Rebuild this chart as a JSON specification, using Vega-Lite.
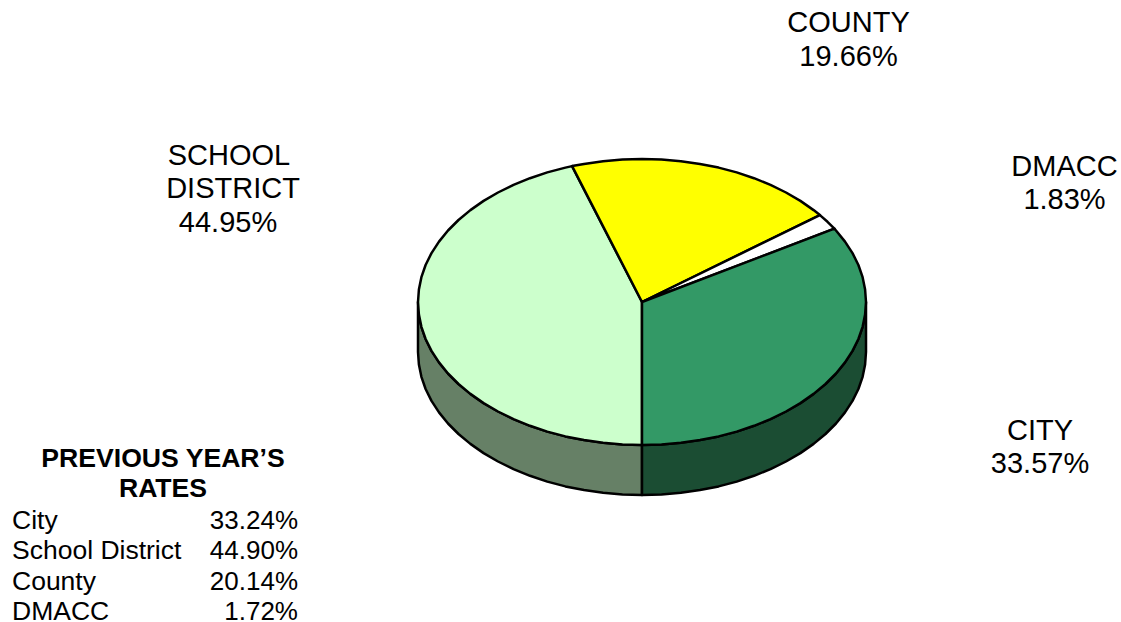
{
  "$schema": "https://vega.github.io/schema/vega-lite/v6.json",
  "width": 1121,
  "height": 622,
  "padding": 0,
  "autosize": {"type": "none"},
  "background": "white",
  "view": {"stroke": null},
  "config": {"font": "Liberation Sans"},
  "datasets": {
    "walls": [
      {"part":"Left wall","seq":1,"x":0,"y":-143},{"part":"Left wall","seq":2,"x":-19.5,"y":-142.5},{"part":"Left wall","seq":3,"x":-38.9,"y":-140.8},{"part":"Left wall","seq":4,"x":-58,"y":-138.1},{"part":"Left wall","seq":5,"x":-76.6,"y":-134.4},{"part":"Left wall","seq":6,"x":-94.7,"y":-129.6},{"part":"Left wall","seq":7,"x":-112,"y":-123.8},{"part":"Left wall","seq":8,"x":-128.5,"y":-117.1},{"part":"Left wall","seq":9,"x":-144,"y":-109.5},{"part":"Left wall","seq":10,"x":-158.4,"y":-101.1},{"part":"Left wall","seq":11,"x":-171.6,"y":-91.9},{"part":"Left wall","seq":12,"x":-183.5,"y":-82},{"part":"Left wall","seq":13,"x":-194,"y":-71.5},{"part":"Left wall","seq":14,"x":-203,"y":-60.4},{"part":"Left wall","seq":15,"x":-210.5,"y":-48.9},{"part":"Left wall","seq":16,"x":-216.4,"y":-37},{"part":"Left wall","seq":17,"x":-220.6,"y":-24.8},{"part":"Left wall","seq":18,"x":-223.1,"y":-12.5},{"part":"Left wall","seq":19,"x":-224,"y":0},
      {"part":"Left wall","seq":20,"x":-224,"y":-50},{"part":"Left wall","seq":21,"x":-223.1,"y":-62.5},{"part":"Left wall","seq":22,"x":-220.6,"y":-74.8},{"part":"Left wall","seq":23,"x":-216.4,"y":-87},{"part":"Left wall","seq":24,"x":-210.5,"y":-98.9},{"part":"Left wall","seq":25,"x":-203,"y":-110.4},{"part":"Left wall","seq":26,"x":-194,"y":-121.5},{"part":"Left wall","seq":27,"x":-183.5,"y":-132},{"part":"Left wall","seq":28,"x":-171.6,"y":-141.9},{"part":"Left wall","seq":29,"x":-158.4,"y":-151.1},{"part":"Left wall","seq":30,"x":-144,"y":-159.5},{"part":"Left wall","seq":31,"x":-128.5,"y":-167.1},{"part":"Left wall","seq":32,"x":-112,"y":-173.8},{"part":"Left wall","seq":33,"x":-94.7,"y":-179.6},{"part":"Left wall","seq":34,"x":-76.6,"y":-184.4},{"part":"Left wall","seq":35,"x":-58,"y":-188.1},{"part":"Left wall","seq":36,"x":-38.9,"y":-190.8},{"part":"Left wall","seq":37,"x":-19.5,"y":-192.5},{"part":"Left wall","seq":38,"x":0,"y":-193},{"part":"Left wall","seq":39,"x":0,"y":-143},
      {"part":"Right wall","seq":1,"x":0,"y":-143},{"part":"Right wall","seq":2,"x":19.5,"y":-142.5},{"part":"Right wall","seq":3,"x":38.9,"y":-140.8},{"part":"Right wall","seq":4,"x":58,"y":-138.1},{"part":"Right wall","seq":5,"x":76.6,"y":-134.4},{"part":"Right wall","seq":6,"x":94.7,"y":-129.6},{"part":"Right wall","seq":7,"x":112,"y":-123.8},{"part":"Right wall","seq":8,"x":128.5,"y":-117.1},{"part":"Right wall","seq":9,"x":144,"y":-109.5},{"part":"Right wall","seq":10,"x":158.4,"y":-101.1},{"part":"Right wall","seq":11,"x":171.6,"y":-91.9},{"part":"Right wall","seq":12,"x":183.5,"y":-82},{"part":"Right wall","seq":13,"x":194,"y":-71.5},{"part":"Right wall","seq":14,"x":203,"y":-60.4},{"part":"Right wall","seq":15,"x":210.5,"y":-48.9},{"part":"Right wall","seq":16,"x":216.4,"y":-37},{"part":"Right wall","seq":17,"x":220.6,"y":-24.8},{"part":"Right wall","seq":18,"x":223.1,"y":-12.5},{"part":"Right wall","seq":19,"x":224,"y":0},
      {"part":"Right wall","seq":20,"x":224,"y":-50},{"part":"Right wall","seq":21,"x":223.1,"y":-62.5},{"part":"Right wall","seq":22,"x":220.6,"y":-74.8},{"part":"Right wall","seq":23,"x":216.4,"y":-87},{"part":"Right wall","seq":24,"x":210.5,"y":-98.9},{"part":"Right wall","seq":25,"x":203,"y":-110.4},{"part":"Right wall","seq":26,"x":194,"y":-121.5},{"part":"Right wall","seq":27,"x":183.5,"y":-132},{"part":"Right wall","seq":28,"x":171.6,"y":-141.9},{"part":"Right wall","seq":29,"x":158.4,"y":-151.1},{"part":"Right wall","seq":30,"x":144,"y":-159.5},{"part":"Right wall","seq":31,"x":128.5,"y":-167.1},{"part":"Right wall","seq":32,"x":112,"y":-173.8},{"part":"Right wall","seq":33,"x":94.7,"y":-179.6},{"part":"Right wall","seq":34,"x":76.6,"y":-184.4},{"part":"Right wall","seq":35,"x":58,"y":-188.1},{"part":"Right wall","seq":36,"x":38.9,"y":-190.8},{"part":"Right wall","seq":37,"x":19.5,"y":-192.5},{"part":"Right wall","seq":38,"x":0,"y":-193},{"part":"Right wall","seq":39,"x":0,"y":-143}
    ],
    "slices": [
      {"part":"School District","seq":1,"x":0,"y":0},{"part":"School District","seq":2,"x":0,"y":-143},{"part":"School District","seq":3,"x":-19.5,"y":-142.5},{"part":"School District","seq":4,"x":-38.9,"y":-140.8},{"part":"School District","seq":5,"x":-58,"y":-138.1},{"part":"School District","seq":6,"x":-76.6,"y":-134.4},{"part":"School District","seq":7,"x":-94.7,"y":-129.6},{"part":"School District","seq":8,"x":-112,"y":-123.8},{"part":"School District","seq":9,"x":-128.5,"y":-117.1},{"part":"School District","seq":10,"x":-144,"y":-109.5},{"part":"School District","seq":11,"x":-158.4,"y":-101.1},{"part":"School District","seq":12,"x":-171.6,"y":-91.9},{"part":"School District","seq":13,"x":-183.5,"y":-82},{"part":"School District","seq":14,"x":-194,"y":-71.5},{"part":"School District","seq":15,"x":-203,"y":-60.4},{"part":"School District","seq":16,"x":-210.5,"y":-48.9},{"part":"School District","seq":17,"x":-216.4,"y":-37},{"part":"School District","seq":18,"x":-220.6,"y":-24.8},{"part":"School District","seq":19,"x":-223.1,"y":-12.5},{"part":"School District","seq":20,"x":-224,"y":0},{"part":"School District","seq":21,"x":-223.1,"y":12.5},{"part":"School District","seq":22,"x":-220.6,"y":24.8},{"part":"School District","seq":23,"x":-216.4,"y":37},{"part":"School District","seq":24,"x":-210.5,"y":48.9},{"part":"School District","seq":25,"x":-203,"y":60.4},{"part":"School District","seq":26,"x":-194,"y":71.5},{"part":"School District","seq":27,"x":-183.5,"y":82},{"part":"School District","seq":28,"x":-171.6,"y":91.9},{"part":"School District","seq":29,"x":-158.4,"y":101.1},{"part":"School District","seq":30,"x":-144,"y":109.5},{"part":"School District","seq":31,"x":-128.5,"y":117.1},{"part":"School District","seq":32,"x":-112,"y":123.8},{"part":"School District","seq":33,"x":-94.7,"y":129.6},{"part":"School District","seq":34,"x":-76.6,"y":134.4},{"part":"School District","seq":35,"x":-69.9,"y":135.9},{"part":"School District","seq":36,"x":0,"y":0},
      {"part":"County","seq":1,"x":0,"y":0},{"part":"County","seq":2,"x":-69.9,"y":135.9},{"part":"County","seq":3,"x":-58,"y":138.1},{"part":"County","seq":4,"x":-38.9,"y":140.8},{"part":"County","seq":5,"x":-19.5,"y":142.5},{"part":"County","seq":6,"x":0,"y":143},{"part":"County","seq":7,"x":19.5,"y":142.5},{"part":"County","seq":8,"x":38.9,"y":140.8},{"part":"County","seq":9,"x":58,"y":138.1},{"part":"County","seq":10,"x":76.6,"y":134.4},{"part":"County","seq":11,"x":94.7,"y":129.6},{"part":"County","seq":12,"x":112,"y":123.8},{"part":"County","seq":13,"x":128.5,"y":117.1},{"part":"County","seq":14,"x":144,"y":109.5},{"part":"County","seq":15,"x":158.4,"y":101.1},{"part":"County","seq":16,"x":171.6,"y":91.9},{"part":"County","seq":17,"x":177.9,"y":86.9},{"part":"County","seq":18,"x":0,"y":0},
      {"part":"DMACC","seq":1,"x":0,"y":0},{"part":"DMACC","seq":2,"x":177.9,"y":86.9},{"part":"DMACC","seq":3,"x":185.5,"y":80.2},{"part":"DMACC","seq":4,"x":192.4,"y":73.3},{"part":"DMACC","seq":5,"x":0,"y":0},
      {"part":"City","seq":1,"x":0,"y":0},{"part":"City","seq":2,"x":192.4,"y":73.3},{"part":"City","seq":3,"x":194,"y":71.5},{"part":"City","seq":4,"x":203,"y":60.4},{"part":"City","seq":5,"x":210.5,"y":48.9},{"part":"City","seq":6,"x":216.4,"y":37},{"part":"City","seq":7,"x":220.6,"y":24.8},{"part":"City","seq":8,"x":223.1,"y":12.5},{"part":"City","seq":9,"x":224,"y":0},{"part":"City","seq":10,"x":223.1,"y":-12.5},{"part":"City","seq":11,"x":220.6,"y":-24.8},{"part":"City","seq":12,"x":216.4,"y":-37},{"part":"City","seq":13,"x":210.5,"y":-48.9},{"part":"City","seq":14,"x":203,"y":-60.4},{"part":"City","seq":15,"x":194,"y":-71.5},{"part":"City","seq":16,"x":183.5,"y":-82},{"part":"City","seq":17,"x":171.6,"y":-91.9},{"part":"City","seq":18,"x":158.4,"y":-101.1},{"part":"City","seq":19,"x":144,"y":-109.5},{"part":"City","seq":20,"x":128.5,"y":-117.1},{"part":"City","seq":21,"x":112,"y":-123.8},{"part":"City","seq":22,"x":94.7,"y":-129.6},{"part":"City","seq":23,"x":76.6,"y":-134.4},{"part":"City","seq":24,"x":58,"y":-138.1},{"part":"City","seq":25,"x":38.9,"y":-140.8},{"part":"City","seq":26,"x":19.5,"y":-142.5},{"part":"City","seq":27,"x":0,"y":-143},{"part":"City","seq":28,"x":0,"y":0}
    ],
    "labels": [
      {"text":"COUNTY","x":206.5,"y":279},{"text":"19.66%","x":206.5,"y":245},
      {"text":"SCHOOL","x":-413,"y":146},{"text":"DISTRICT","x":-409,"y":113},{"text":"44.95%","x":-414,"y":79},
      {"text":"DMACC","x":422.5,"y":135},{"text":"1.83%","x":422.5,"y":102},
      {"text":"CITY","x":398,"y":-129},{"text":"33.57%","x":398,"y":-162}
    ],
    "heading": [
      {"text":"PREVIOUS YEAR’S","x":-479,"y":-157},{"text":"RATES","x":-479,"y":-187}
    ],
    "previous": [
      {"name":"City","rate":"33.24%","lx":-630,"rx":-344,"y":-219},
      {"name":"School District","rate":"44.90%","lx":-630,"rx":-344,"y":-249},
      {"name":"County","rate":"20.14%","lx":-630,"rx":-344,"y":-280},
      {"name":"DMACC","rate":"1.72%","lx":-630,"rx":-344,"y":-310}
    ]
  },
  "encoding": {
    "x": {"field": "x", "type": "quantitative", "scale": {"domain": [-642, 479], "nice": false, "zero": false}, "axis": null},
    "y": {"field": "y", "type": "quantitative", "scale": {"domain": [-320, 302], "nice": false, "zero": false}, "axis": null}
  },
  "layer": [
    {
      "data": {"name": "walls"},
      "mark": {"type": "line", "stroke": "black", "strokeWidth": 2.5, "strokeJoin": "round"},
      "encoding": {
        "order": {"field": "seq", "type": "quantitative"},
        "fill": {"field": "part", "type": "nominal", "legend": null, "scale": {"domain": ["Left wall", "Right wall"], "range": ["#668066", "#1B4D33"]}}
      }
    },
    {
      "data": {"name": "slices"},
      "mark": {"type": "line", "stroke": "black", "strokeWidth": 2.5, "strokeJoin": "round"},
      "encoding": {
        "order": {"field": "seq", "type": "quantitative"},
        "fill": {"field": "part", "type": "nominal", "legend": null, "scale": {"domain": ["City", "School District", "County", "DMACC"], "range": ["#339966", "#CCFFCC", "#FFFF00", "#FFFFFF"]}}
      }
    },
    {
      "data": {"name": "labels"},
      "mark": {"type": "text", "fontSize": 29, "align": "center", "baseline": "middle", "color": "black"},
      "encoding": {"text": {"field": "text"}}
    },
    {
      "data": {"name": "heading"},
      "mark": {"type": "text", "fontSize": 26.6, "fontWeight": "bold", "align": "center", "baseline": "middle", "color": "black"},
      "encoding": {"text": {"field": "text"}}
    },
    {
      "data": {"name": "previous"},
      "mark": {"type": "text", "fontSize": 26.5, "align": "left", "baseline": "middle", "color": "black"},
      "encoding": {"text": {"field": "name"}, "x": {"field": "lx", "type": "quantitative"}}
    },
    {
      "data": {"name": "previous"},
      "mark": {"type": "text", "fontSize": 26, "align": "right", "baseline": "middle", "color": "black"},
      "encoding": {"text": {"field": "rate"}, "x": {"field": "rx", "type": "quantitative"}}
    }
  ],
  "resolve": {"scale": {"fill": "independent"}}
}
